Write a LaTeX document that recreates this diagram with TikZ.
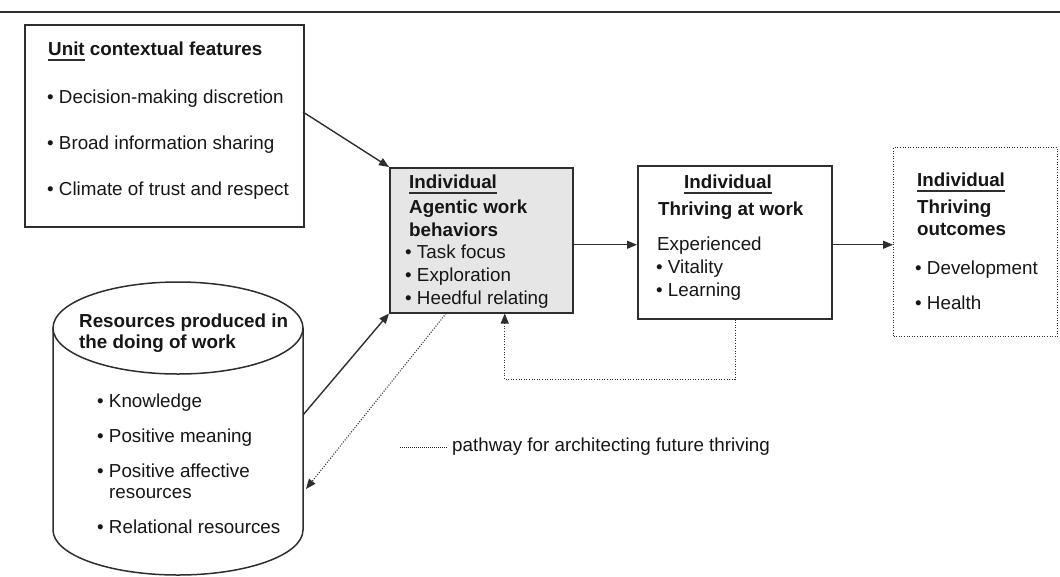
\documentclass[tikz,border=0pt]{standalone}
\usepackage{fontspec}
\setmainfont{Liberation Sans}
\usetikzlibrary{arrows.meta}
\definecolor{ink}{HTML}{161616}
\definecolor{edge}{HTML}{2E2E2E}
\definecolor{shade}{HTML}{E6E6E6}
\newcommand\fs{\fontsize{18.8}{22}\selectfont}
% underline drawn as a rule a little below the baseline
\newcommand\myul[1]{\setbox0\hbox{#1}\rlap{\color{edge}\rule[-5.6pt]{\wd0}{1.8pt}}\box0\relax}

\begin{document}
\begin{tikzpicture}[x=1pt,y=-1pt,
  box/.style={draw=edge, line width=1.5pt, rectangle, inner sep=0pt, anchor=north west},
  dotbox/.style={draw=edge, line width=1.1pt, dash pattern=on 1pt off 1.6pt, rectangle, inner sep=0pt, anchor=north west},
  txt/.style={anchor=base west, inner sep=0pt, text=ink, font=\fs},
  hd/.style={txt, font=\fs\bfseries},
  conn/.style={draw=edge, line width=1.4pt, -{Triangle[length=10pt,width=8pt]}},
  dots/.style={draw=edge, line width=1.1pt, dash pattern=on 1pt off 1.6pt},
  dotconn/.style={dots, -{Triangle[length=10pt,width=8pt]}}]

\useasboundingbox (0,0) rectangle (1060,576);

% rule across the top
\draw[edge, line width=1.5pt] (0,12) -- (1060,12);

% boxes
\node[box, minimum width=279pt, minimum height=202pt] (ctx) at (24,24) {};
\node[box, fill=shade, minimum width=183pt, minimum height=145pt] (agent) at (389,167) {};
\node[box, minimum width=194pt, minimum height=153pt] (thr) at (637,165) {};
\node[dotbox, minimum width=164pt, minimum height=189pt] (out) at (893,147) {};

% resource cylinder
\draw[edge, line width=1.5pt, fill=white] (53,328) -- (53,530)
  arc[start angle=180, end angle=360, x radius=125pt, y radius=45pt] -- (303,328);
\draw[edge, line width=1.5pt, fill=white] (178,328) ellipse [x radius=125pt, y radius=46pt];
\coordinate (resOut) at (303,415);
\coordinate (resIn) at (306,489);

% unit contextual features
\node[hd] (ctxh) at (48,55) {\myul{Unit} contextual features};
\node[txt] (ctx1) at (47,103.5) {• Decision-making discretion};
\node[txt] (ctx2) at (47,149.5) {• Broad information sharing};
\node[txt] (ctx3) at (47,195.5) {• Climate of trust and respect};

% agentic work behaviors
\node[hd] (ag0) at (409,188.5) {\myul{Individual}};
\node[hd] (ag1) at (409,213) {Agentic work};
\node[hd] (ag2) at (409,236) {behaviors};
\node[txt] (ag3) at (405,258.5) {• Task focus};
\node[txt] (ag4) at (405,281.5) {• Exploration};
\node[txt] (ag5) at (405,304.5) {• Heedful relating};

% thriving at work
\node[hd, anchor=base] (th0) at (728,188) {\myul{Individual}};
\node[hd] (th1) at (658,215.5) {Thriving at work};
\node[txt] (th2) at (657,250.5) {Experienced};
\node[txt] (th3) at (656,273.5) {• Vitality};
\node[txt] (th4) at (656,296.5) {• Learning};

% thriving outcomes
\node[hd] (ou0) at (917,186.5) {\myul{Individual}};
\node[hd] (ou1) at (917,213.5) {Thriving};
\node[hd] (ou2) at (917,235) {outcomes};
\node[txt] (ou3) at (915,274.5) {• Development};
\node[txt] (ou4) at (915,309.5) {• Health};

% resources produced in the doing of work
\node[hd] (rs0) at (79,327) {Resources produced in};
\node[hd] (rs1) at (79,348.5) {the doing of work};
\node[txt] (rs2) at (97,407) {• Knowledge};
\node[txt] (rs3) at (97,442) {• Positive meaning};
\node[txt] (rs4) at (97,477) {• Positive affective};
\node[txt] (rs5) at (109,498.5) {resources};
\node[txt] (rs6) at (97,533.5) {• Relational resources};

% solid connectors
\coordinate (ctxOut) at (303,112);
\draw[conn] (ctxOut) -- (agent.north west);
\draw[conn] (resOut) -- (agent.south west);
\coordinate (a1) at ([yshift=-4.5pt]agent.east);
\draw[conn] (a1) -- (a1 -| thr.west);
\coordinate (a2) at ([yshift=-2.5pt]thr.east);
\draw[conn] (a2) -- (a2 -| out.west);

% dotted pathways
\coordinate (d1) at ([xshift=57pt]agent.south west);
\draw[dotconn] (d1) -- (resIn);
\coordinate (fb) at ([xshift=23.5pt]agent.south);
\draw[dotconn] ([xshift=0.5pt]thr.south) -- ++(0,60) -| (fb);

% legend
\node[txt, anchor=west] (leg) at (452,447) {pathway for architecting future thriving};
\coordinate (l1) at (400,447);
\draw[dots, line width=0.8pt, dash pattern=on 1pt off 1pt] (l1) -- ([xshift=-4pt]leg.west);
\end{tikzpicture}
\end{document}
